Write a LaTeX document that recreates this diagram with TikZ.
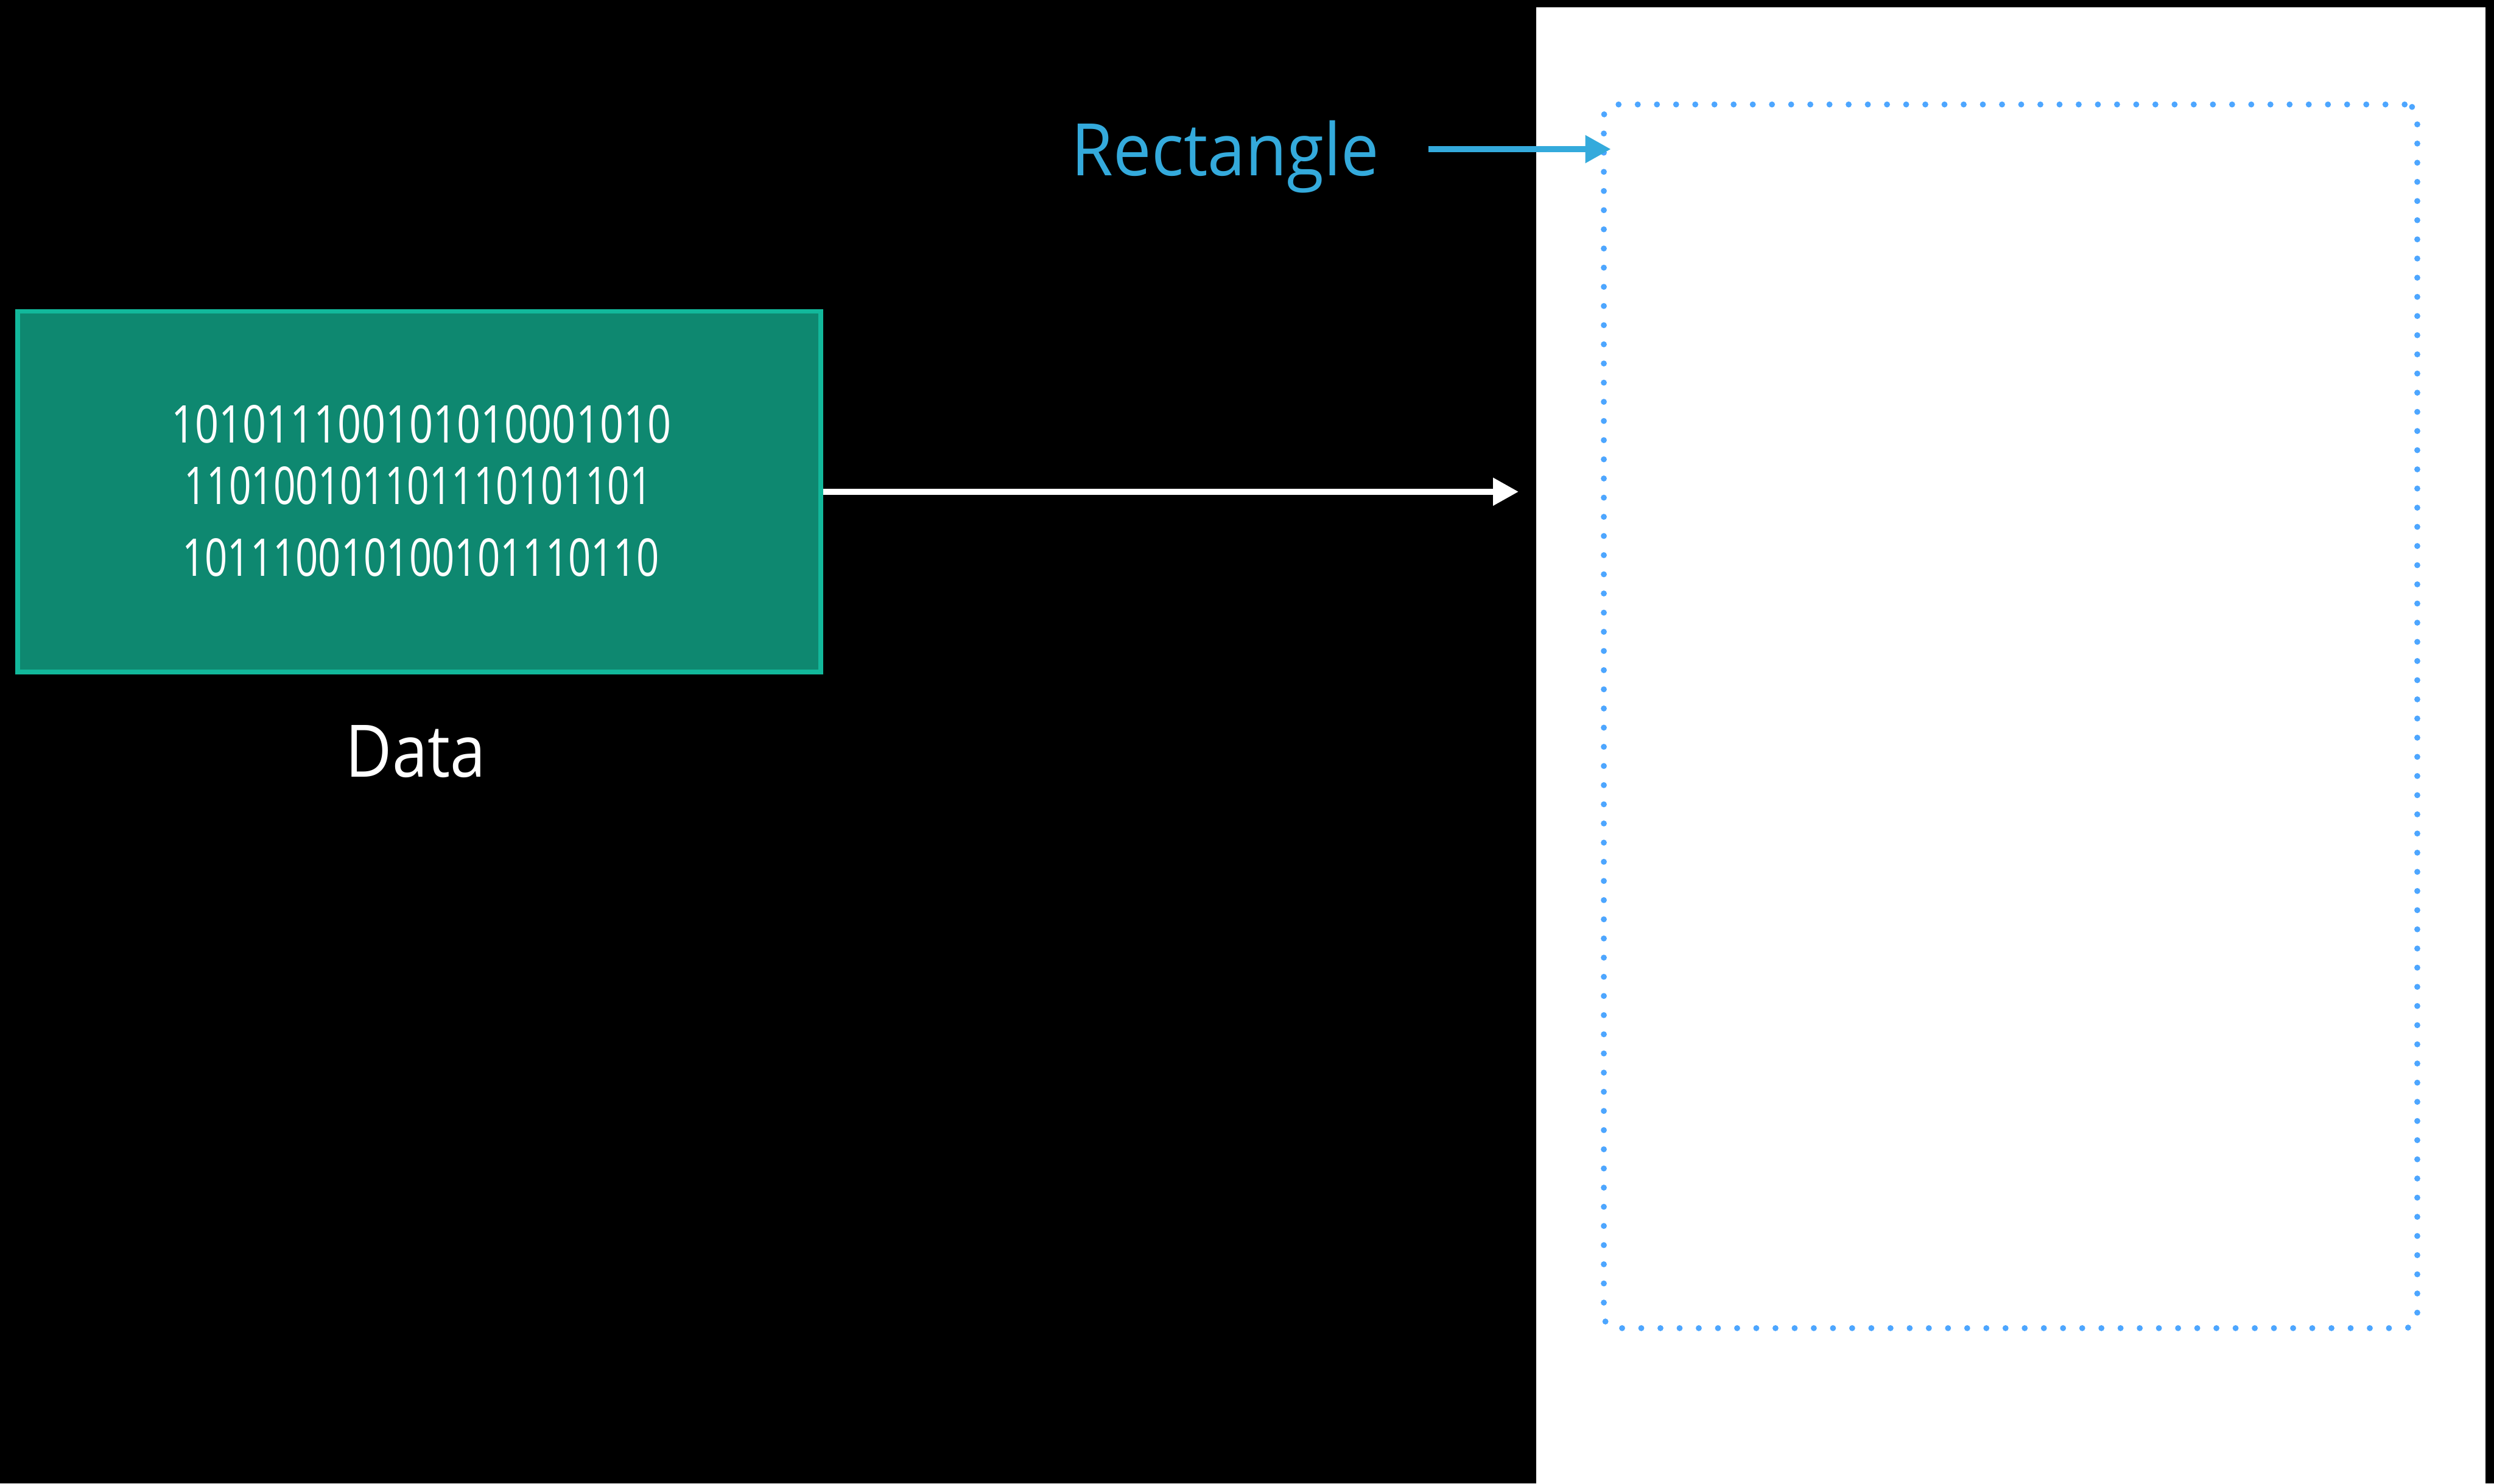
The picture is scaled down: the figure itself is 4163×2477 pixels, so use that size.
\documentclass[tikz,border=0pt]{standalone}
\usepackage{fontspec}
\usetikzlibrary{arrows.meta}
\setmainfont{Open Sans}
\newfontfamily\labelfont[FakeStretch=0.88]{Open Sans}
\newfontfamily\calloutfont[FakeStretch=0.935]{Open Sans}
\newfontfamily\bitsfont[FakeStretch=0.8]{Open Sans}

\definecolor{tealfill}{HTML}{0E8870}
\definecolor{tealedge}{HTML}{12B89B}
\definecolor{calloutblue}{HTML}{34AADC}
\definecolor{dotblue}{HTML}{4DA6FF}

\tikzset{
  datablock/.style={draw=tealedge, fill=tealfill, line width=2.28pt,
    minimum width=13.4cm, minimum height=6.02cm, inner sep=0pt},
  bits/.style={text=white, inner sep=0pt, anchor=base,
    font=\bitsfont\fontsize{24.7pt}{24.7pt}\selectfont},
  caption/.style={inner sep=0pt, font=\labelfont\fontsize{34.4pt}{34.4pt}\selectfont},
  callout/.style={inner sep=0pt, text=calloutblue,
    font=\calloutfont\fontsize{34.4pt}{34.4pt}\selectfont},
  flow/.style={draw=white, line width=3.04pt,
    -{Triangle[length=12.2pt, width=12.5pt]}},
  pointer/.style={draw=calloutblue, line width=3.1pt,
    -{Triangle[length=12.2pt, width=12.5pt]}},
  dotframe/.style={draw=dotblue, line width=2.85pt, line cap=round,
    dash pattern=on 0pt off 9.1pt, rounded corners=6pt,
    minimum width=13.57cm, minimum height=20.42cm, inner sep=0pt}
}

\begin{document}
\begin{tikzpicture}[x=0.01cm, y=-0.01cm]
  % canvas
  \fill[black] (0,0) rectangle (4163,2477);
  \useasboundingbox (0,0) rectangle (4163,2477);
  % white page on the right
  \fill[white] (2564,12) rectangle (4149,2477);

  % data block
  \node[datablock] (data) at (700,821) {};
  \node[bits] (bits1) at (703,739) {101011100101010001010};
  \node[bits] (bits2) at (698,842) {\scalebox{0.935}[1]{110100101101110101101}};
  \node[bits] (bits3) at (702,962) {\scalebox{0.954}[1]{101110010100101110110}};
  \node[caption, text=white, anchor=base] (datalabel) at (694,1297) {Data};

  % dotted rectangle on the page
  \node[dotframe] (frame) at (3356,1196) {};

  % labels and arrows
  \node[callout, anchor=base west] (rectlabel) at (1788,293) {Rectangle};
  \coordinate (ptrstart) at (2384,249);
  \coordinate (ptrend) at (2689,249);
  \draw[pointer] (ptrstart) -- (ptrend);

  \coordinate (flowend) at (2535,821);
  \draw[flow] (data.east) -- (flowend);
\end{tikzpicture}
\end{document}
